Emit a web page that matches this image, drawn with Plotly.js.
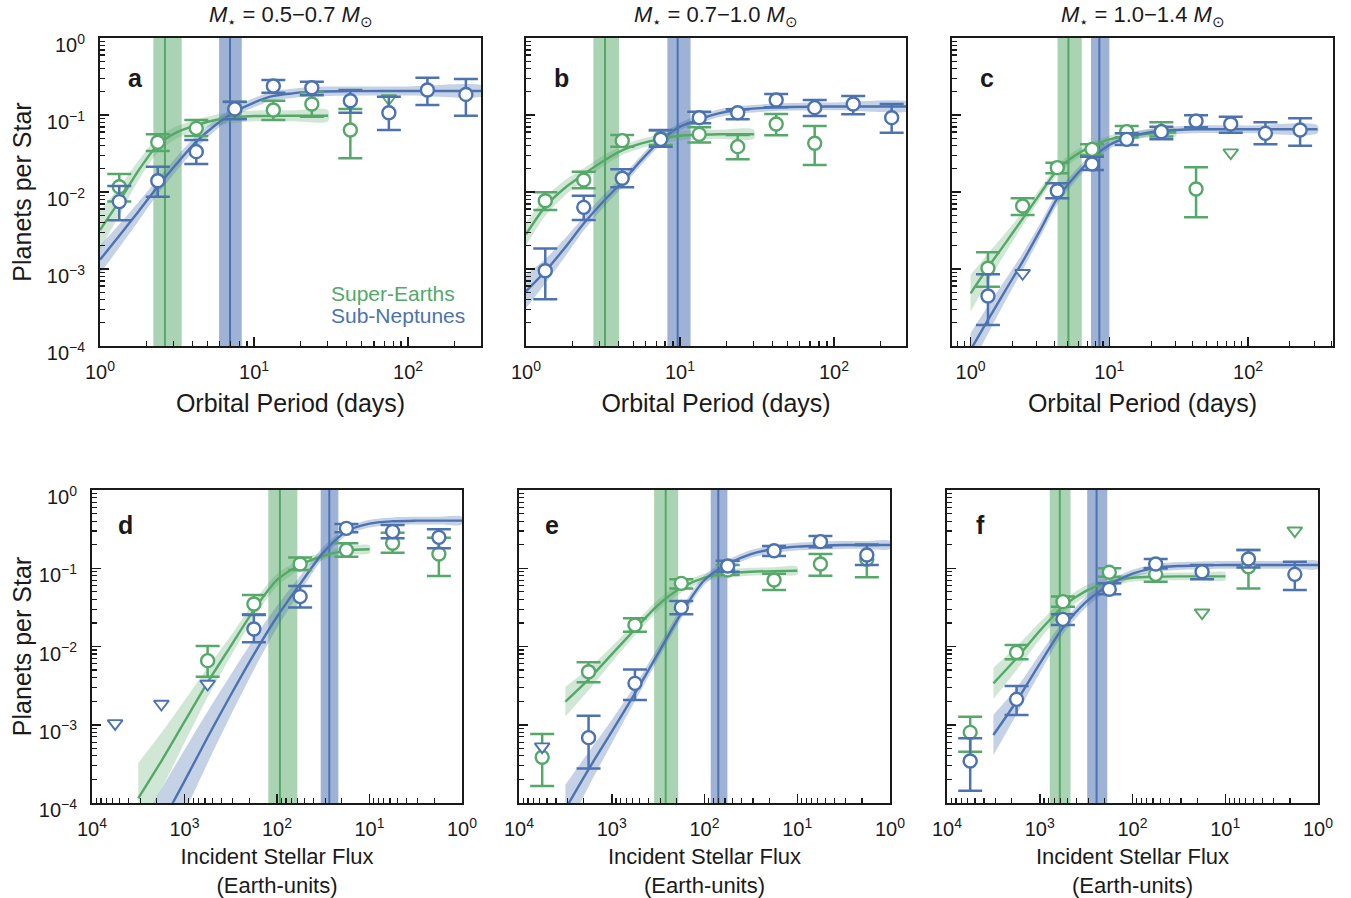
<!DOCTYPE html>
<html><head><meta charset="utf-8">
<script src="https://cdn.plot.ly/plotly-3.0.1.min.js"></script>
<style>html,body{margin:0;padding:0;background:#fff}</style>
</head><body><div id="chart" style="width:1351px;height:898px"></div>
<script>
// ---------------- data ----------------
const periodBins = [1.334, 2.371, 4.217, 7.499, 13.34, 23.71, 42.17, 74.99, 133.4, 237.1];
const fluxBins = [5623, 1778, 562.3, 177.8, 56.23, 17.78, 5.623, 1.778];

// panel a : 0.5-0.7 Msun, orbital period
const aBlue   = [0.0075, 0.0140, 0.0334, 0.120, 0.238, 0.226, 0.153, 0.107, 0.211, 0.185];
const aBlueHi = [0.0120, 0.0213, 0.0473, 0.149, 0.285, 0.271, 0.211, 0.173, 0.305, 0.294];
const aBlueLo = [0.0043, 0.0087, 0.0231, 0.088, 0.195, 0.180, 0.107, 0.064, 0.135, 0.098];
const aBlueLimit = [null, null, null, null, null, null, null, null, null, null];
const aGreen   = [0.0117, 0.0442, 0.0671, 0.1175, 0.116, 0.139, 0.0638, null, null, null];
const aGreenHi = [0.0171, 0.0561, 0.0861, 0.148, 0.153, 0.197, 0.1197, null, null, null];
const aGreenLo = [0.0075, 0.0340, 0.0533, 0.0891, 0.0861, 0.0951, 0.0274, null, null, null];
const aGreenLimit = [null, null, null, null, null, null, null, 0.164, null, null];

// panel b : 0.7-1.0 Msun
const bBlue   = [0.00095, 0.00632, 0.01507, 0.0483, 0.0923, 0.1072, 0.1567, 0.1245, 0.139, 0.0923];
const bBlueHi = [0.00185, 0.00895, 0.01968, 0.0638, 0.1104, 0.1186, 0.1875, 0.1567, 0.1766, 0.139];
const bBlueLo = [0.000404, 0.00433, 0.0115, 0.0388, 0.078, 0.0879, 0.1259, 0.097, 0.1021, 0.059];
const bBlueLimit = [null, null, null, null, null, null, null, null, null, null];
const bGreen   = [0.00771, 0.01432, 0.04645, 0.0498, 0.0561, 0.0388, 0.0764, 0.0429, null, null];
const bGreenHi = [0.00991, 0.01837, 0.055, 0.0631, 0.0692, 0.055, 0.103, 0.0719, null, null];
const bGreenLo = [0.00583, 0.01117, 0.0388, 0.0407, 0.0438, 0.02655, 0.0545, 0.02244, null, null];
const bGreenLimit = [null, null, null, null, null, null, null, null, null, null];

// panel c : 1.0-1.4 Msun
const cBlue   = [0.000446, null, 0.0104, 0.0231, 0.0483, 0.0608, 0.0836, 0.0764, 0.0578, 0.0638];
const cBlueHi = [0.000853, null, 0.01297, 0.02877, 0.0578, 0.0706, 0.0991, 0.0951, 0.0804, 0.0906];
const cBlueLo = [0.0001875, null, 0.00828, 0.01932, 0.0407, 0.0483, 0.0692, 0.059, 0.0416, 0.040];
const cBlueLimit = [null, 0.000879, null, null, null, null, null, null, null, null];
const cGreen   = [0.001021, 0.00658, 0.0207, 0.0358, 0.0608, 0.0608, 0.01094, null, null, null];
const cGreenHi = [0.001648, 0.00828, 0.02404, 0.0416, 0.0719, 0.0804, 0.0209, null, null, null];
const cGreenLo = [0.00059, 0.00502, 0.01746, 0.03027, 0.0513, 0.0524, 0.00469, null, null, null];
const cGreenLimit = [null, null, null, null, null, null, null, 0.03243, null, null];

// panel d : 0.5-0.7 Msun, incident flux
const dBlue   = [null, null, null, 0.01675, 0.0434, 0.3236, 0.2938, 0.2483];
const dBlueHi = [null, null, null, 0.0253, 0.0593, 0.367, 0.357, 0.314];
const dBlueLo = [null, null, null, 0.0113, 0.0316, 0.2877, 0.241, 0.1795];
const dBlueLimit = [0.00104, 0.00184, 0.00332, null, null, null, null, null];
const dGreen   = [null, null, 0.00659, 0.0349, 0.1132, 0.171, 0.2084, 0.152];
const dGreenHi = [null, null, 0.01014, 0.0455, 0.1377, 0.2084, 0.2844, 0.2455];
const dGreenLo = [null, null, 0.00411, 0.02576, 0.0951, 0.1406, 0.1581, 0.0796];
const dGreenLimit = [null, null, null, null, null, null, null, null];

// panel e : 0.7-1.0 Msun
const eBlue   = [null, 0.000684, 0.00338, 0.0316, 0.1069, 0.1675, 0.2188, 0.1476];
const eBlueHi = [null, 0.001306, 0.0051, 0.0381, 0.125, 0.1923, 0.2582, 0.1982];
const eBlueLo = [null, 0.000277, 0.00207, 0.02576, 0.0904, 0.1435, 0.1849, 0.1102];
const eBlueLimit = [0.000525, null, null, null, null, null, null, null];
const eGreen   = [0.000384, 0.00476, 0.01884, 0.0641, 0.0951, 0.0708, 0.1132, 0.130];
const eGreenHi = [0.000762, 0.00628, 0.0229, 0.0721, 0.1102, 0.0851, 0.152, 0.2023];
const eGreenLo = [0.0001648, 0.00348, 0.01545, 0.0553, 0.082, 0.0527, 0.0804, 0.0766];
const eGreenLimit = [null, null, null, null, null, null, null, null];

// panel f : 1.0-1.4 Msun
const fBlue   = [0.000344, 0.00211, 0.02223, 0.0538, 0.1132, 0.0904, 0.1312, 0.0836];
const fBlueHi = [0.000671, 0.00313, 0.02576, 0.0641, 0.1312, 0.1102, 0.171, 0.1213];
const fBlueLo = [0.0001436, 0.001334, 0.01884, 0.04645, 0.0998, 0.0721, 0.1026, 0.0527];
const fBlueLimit = [null, null, null, null, null, null, null, null];
const fGreen   = [0.0008, 0.00841, 0.0374, 0.0887, 0.0836, null, 0.1047, null];
const fGreenHi = [0.001268, 0.01045, 0.0434, 0.0998, 0.0998, null, 0.171, null];
const fGreenLo = [0.000453, 0.00685, 0.0323, 0.078, 0.0673, null, 0.0553, null];
const fGreenLimit = [null, null, null, null, null, 0.02704, null, 0.302];

// fitted model curves and their shaded bands
const periodFitGreen = [1, 1.334, 1.778, 2.371, 3.162, 4.217, 5.623, 7.499, 10, 17.78, 30.2];
const periodFitBlue  = [1, 1.334, 1.778, 2.371, 3.162, 4.217, 5.623, 7.499, 10, 13.34, 17.78, 23.71, 42.17, 100, 316.2];
const fluxFitGreen = [3162, 1778, 1000, 562.3, 316.2, 177.8, 100, 56.23, 31.62, 17.78, 10];
const fluxFitBlue  = [3162, 1778, 1000, 562.3, 316.2, 177.8, 100, 56.23, 31.62, 17.78, 10, 5.623, 3.162, 1.778, 1];

const aGreenFit   = [0.0032, 0.0076, 0.019, 0.041, 0.060, 0.074, 0.086, 0.093, 0.097, 0.098, 0.098];
const aGreenFitLo = [0.0018, 0.0050, 0.0141, 0.0326, 0.050, 0.063, 0.073, 0.079, 0.083, 0.083, 0.083];
const aGreenFitHi = [0.0057, 0.0115, 0.0256, 0.0516, 0.072, 0.087, 0.101, 0.109, 0.114, 0.115, 0.115];
const aBlueFit   = [0.00132, 0.0027, 0.0056, 0.0118, 0.0236, 0.045, 0.074, 0.110, 0.145, 0.177, 0.191, 0.201, 0.204, 0.205, 0.205];
const aBlueFitLo = [0.00087, 0.0019, 0.0042, 0.0094, 0.0192, 0.0374, 0.063, 0.096, 0.126, 0.154, 0.166, 0.175, 0.178, 0.179, 0.179];
const aBlueFitHi = [0.0020, 0.0038, 0.0074, 0.0149, 0.029, 0.054, 0.087, 0.126, 0.166, 0.203, 0.219, 0.231, 0.234, 0.235, 0.235];

const bGreenFit   = [0.00282, 0.00646, 0.0112, 0.0170, 0.0251, 0.0347, 0.0427, 0.0490, 0.0537, 0.0562, 0.0562];
const bGreenFitLo = [0.0020, 0.0049, 0.0089, 0.0141, 0.0214, 0.0302, 0.0372, 0.0427, 0.0468, 0.0490, 0.0490];
const bGreenFitHi = [0.0040, 0.0085, 0.0141, 0.0204, 0.0295, 0.0398, 0.0490, 0.0563, 0.0616, 0.0645, 0.0645];
const bBlueFit   = [0.000513, 0.000933, 0.00186, 0.00389, 0.00748, 0.0135, 0.0261, 0.0468, 0.0706, 0.0879, 0.105, 0.116, 0.126, 0.129, 0.129];
const bBlueFitLo = [0.00031, 0.00065, 0.00141, 0.00316, 0.00622, 0.0115, 0.0227, 0.0408, 0.0629, 0.0783, 0.0936, 0.1034, 0.1123, 0.115, 0.115];
const bBlueFitHi = [0.00085, 0.00135, 0.00245, 0.00478, 0.0090, 0.0159, 0.0300, 0.0537, 0.0792, 0.0986, 0.118, 0.130, 0.141, 0.145, 0.145];

const cGreenFit   = [0.000483, 0.001047, 0.002153, 0.0045, 0.00942, 0.0193, 0.0296, 0.0395, 0.0483, 0.0566, 0.0596];
const cGreenFitLo = [0.000278, 0.000692, 0.001596, 0.00366, 0.00802, 0.0168, 0.0258, 0.0352, 0.0430, 0.0504, 0.0531];
const cGreenFitHi = [0.000839, 0.001585, 0.002904, 0.005535, 0.01107, 0.02216, 0.03398, 0.04432, 0.0542, 0.0635, 0.0669];
const cBlueFit   = [0.000089, 0.000218, 0.000524, 0.001245, 0.003148, 0.00828, 0.0158, 0.0274, 0.0407, 0.0508, 0.0578, 0.0619, 0.0652, 0.0652, 0.0652];
const cBlueFitLo = [0.000054, 0.000144, 0.00038, 0.000967, 0.00256, 0.00689, 0.01345, 0.0239, 0.0363, 0.0453, 0.0515, 0.0552, 0.0581, 0.0581, 0.0581];
const cBlueFitHi = [0.000148, 0.00033, 0.000723, 0.001604, 0.00387, 0.00995, 0.01857, 0.0315, 0.0457, 0.0570, 0.0649, 0.0695, 0.0732, 0.0732, 0.0732];

const dGreenFit   = [0.000115, 0.000344, 0.001094, 0.00348, 0.01014, 0.0292, 0.0708, 0.1102, 0.1435, 0.168, 0.1746];
const dGreenFitLo = [0.000041, 0.00015, 0.000588, 0.00225, 0.00752, 0.0232, 0.0589, 0.096, 0.1279, 0.1497, 0.1556];
const dGreenFitHi = [0.000324, 0.000788, 0.002037, 0.00539, 0.01368, 0.0368, 0.0851, 0.1265, 0.161, 0.1885, 0.1959];
const dBlueFit   = [0.0000151, 0.0000537, 0.0001905, 0.000692, 0.0024, 0.00794, 0.02399, 0.0631, 0.1585, 0.2951, 0.3715, 0.398, 0.4055, 0.4055, 0.4055];
const dBlueFitLo = [0.00000478, 0.00001906, 0.0000758, 0.000324, 0.001319, 0.00501, 0.01738, 0.0501, 0.1349, 0.263, 0.3311, 0.3547, 0.3614, 0.3614, 0.3614];
const dBlueFitHi = [0.0000477, 0.0001513, 0.0004785, 0.001479, 0.00437, 0.01259, 0.0331, 0.0794, 0.1862, 0.3311, 0.4168, 0.4466, 0.455, 0.455, 0.455];

const eGreenFit   = [0.001972, 0.0038, 0.00794, 0.0166, 0.0339, 0.0562, 0.0759, 0.0861, 0.0902, 0.092, 0.0931];
const eGreenFitLo = [0.001273, 0.002754, 0.006307, 0.01381, 0.02885, 0.04895, 0.06765, 0.07674, 0.0804, 0.082, 0.083];
const eGreenFitHi = [0.003055, 0.005244, 0.009997, 0.01995, 0.03983, 0.06452, 0.08516, 0.0966, 0.1012, 0.1032, 0.1045];
const eBlueFit   = [0.0000838, 0.000269, 0.000817, 0.00252, 0.00818, 0.02655, 0.0708, 0.1132, 0.152, 0.1762, 0.1888, 0.1945, 0.1982, 0.1982, 0.1982];
const eBlueFitLo = [0.000041, 0.000162, 0.000578, 0.002, 0.00681, 0.0226, 0.0617, 0.1009, 0.1355, 0.157, 0.1683, 0.1734, 0.1767, 0.1767, 0.1767];
const eBlueFitHi = [0.0001711, 0.000447, 0.001154, 0.00317, 0.00983, 0.0312, 0.0813, 0.127, 0.1705, 0.1977, 0.2118, 0.2182, 0.2224, 0.2224, 0.2224];

const fGreenFit   = [0.00338, 0.00708, 0.01585, 0.03236, 0.0513, 0.0668, 0.0755, 0.078, 0.0787, 0.0787, 0.0787];
const fGreenFitLo = [0.00213, 0.00501, 0.01231, 0.02692, 0.04366, 0.05819, 0.06729, 0.06952, 0.07014, 0.07014, 0.07014];
const fGreenFitHi = [0.005357, 0.010, 0.02041, 0.0389, 0.06028, 0.07669, 0.08471, 0.08752, 0.0883, 0.0883, 0.0883];
const fBlueFit   = [0.00074, 0.001995, 0.00603, 0.01738, 0.03715, 0.0611, 0.0851, 0.1012, 0.1069, 0.1089, 0.1102, 0.1102, 0.1102, 0.1102, 0.1102];
const fBlueFitLo = [0.000407, 0.001349, 0.004575, 0.01446, 0.03162, 0.05322, 0.07585, 0.0902, 0.0953, 0.0971, 0.0982, 0.0982, 0.0982, 0.0982, 0.0982];
const fBlueFitHi = [0.001347, 0.002951, 0.007947, 0.02089, 0.04365, 0.07014, 0.09548, 0.1135, 0.12, 0.1222, 0.1237, 0.1237, 0.1237, 0.1237, 0.1237];

// transition locations (vertical lines) and their uncertainty bands
const greenTransition   = [2.64, 3.26, 5.07, 93, 262, 608];
const greenTransitionLo = [2.22, 2.74, 4.23, 60.3, 192, 466];
const greenTransitionHi = [3.39, 4.02, 6.33, 124.2, 349, 780];
const blueTransition    = [6.98, 9.66, 8.47, 27.2, 71, 244];
const blueTransitionLo  = [5.93, 8.28, 7.38, 21.7, 56.6, 187];
const blueTransitionHi  = [8.32, 11.72, 10.0, 33.7, 85.7, 308];

const panelLetters = ['a', 'b', 'c', 'd', 'e', 'f'];
const massTitles = ['0.5\u22120.7', '0.7\u22121.0', '1.0\u22121.4'];

// ---------------- styling ----------------
const GREEN = '#55A868', BLUE = '#4C72B0';
const GREEN_BAND = 'rgba(85,168,104,0.5)', BLUE_BAND = 'rgba(76,114,176,0.55)';
const GREEN_FILL = 'rgba(85,168,104,0.28)', BLUE_FILL = 'rgba(76,114,176,0.32)';
const FONT = 'Liberation Sans, Arial, Helvetica, sans-serif';
const INK = '#1a1a1a';
const W = 1351, H = 898;

const panels = [
  {bins: periodBins, gFitX: periodFitGreen, bFitX: periodFitBlue,
   blue: aBlue, blueHi: aBlueHi, blueLo: aBlueLo, blueLim: aBlueLimit,
   green: aGreen, greenHi: aGreenHi, greenLo: aGreenLo, greenLim: aGreenLimit,
   gFit: aGreenFit, gFitLo: aGreenFitLo, gFitHi: aGreenFitHi, bFit: aBlueFit, bFitLo: aBlueFitLo, bFitHi: aBlueFitHi},
  {bins: periodBins, gFitX: periodFitGreen, bFitX: periodFitBlue,
   blue: bBlue, blueHi: bBlueHi, blueLo: bBlueLo, blueLim: bBlueLimit,
   green: bGreen, greenHi: bGreenHi, greenLo: bGreenLo, greenLim: bGreenLimit,
   gFit: bGreenFit, gFitLo: bGreenFitLo, gFitHi: bGreenFitHi, bFit: bBlueFit, bFitLo: bBlueFitLo, bFitHi: bBlueFitHi},
  {bins: periodBins, gFitX: periodFitGreen, bFitX: periodFitBlue,
   blue: cBlue, blueHi: cBlueHi, blueLo: cBlueLo, blueLim: cBlueLimit,
   green: cGreen, greenHi: cGreenHi, greenLo: cGreenLo, greenLim: cGreenLimit,
   gFit: cGreenFit, gFitLo: cGreenFitLo, gFitHi: cGreenFitHi, bFit: cBlueFit, bFitLo: cBlueFitLo, bFitHi: cBlueFitHi},
  {bins: fluxBins, gFitX: fluxFitGreen, bFitX: fluxFitBlue,
   blue: dBlue, blueHi: dBlueHi, blueLo: dBlueLo, blueLim: dBlueLimit,
   green: dGreen, greenHi: dGreenHi, greenLo: dGreenLo, greenLim: dGreenLimit,
   gFit: dGreenFit, gFitLo: dGreenFitLo, gFitHi: dGreenFitHi, bFit: dBlueFit, bFitLo: dBlueFitLo, bFitHi: dBlueFitHi},
  {bins: fluxBins, gFitX: fluxFitGreen, bFitX: fluxFitBlue,
   blue: eBlue, blueHi: eBlueHi, blueLo: eBlueLo, blueLim: eBlueLimit,
   green: eGreen, greenHi: eGreenHi, greenLo: eGreenLo, greenLim: eGreenLimit,
   gFit: eGreenFit, gFitLo: eGreenFitLo, gFitHi: eGreenFitHi, bFit: eBlueFit, bFitLo: eBlueFitLo, bFitHi: eBlueFitHi},
  {bins: fluxBins, gFitX: fluxFitGreen, bFitX: fluxFitBlue,
   blue: fBlue, blueHi: fBlueHi, blueLo: fBlueLo, blueLim: fBlueLimit,
   green: fGreen, greenHi: fGreenHi, greenLo: fGreenLo, greenLim: fGreenLimit,
   gFit: fGreenFit, gFitLo: fGreenFitLo, gFitHi: fGreenFitHi, bFit: fBlueFit, bFitLo: fBlueFitLo, bFitHi: fBlueFitHi}
];

// pixel frames of the six panels -> domains
const frames = [
  {x0: 100, x1: 481, y0: 38, y1: 346, xr: [0, 2.473]},
  {x0: 526, x1: 906, y0: 38, y1: 346, xr: [0, 2.468]},
  {x0: 952, x1: 1333, y0: 38, y1: 346, xr: [-0.134, 2.612]},
  {x0: 92, x1: 462, y0: 490, y1: 803, xr: [4, 0]},
  {x0: 519, x1: 890, y0: 490, y1: 803, xr: [4, 0]},
  {x0: 947, x1: 1318, y0: 490, y1: 803, xr: [4, 0]}
];

function minorLog(e0, e1) {
  const v = [];
  for (let e = e0; e <= e1; e++) for (let k = 2; k <= 9; k++) v.push(k * Math.pow(10, e));
  return v;
}
function powLabel(p) { return '10<sup>' + (p < 0 ? '\u2212' + (-p) : p) + '</sup>'; }

const traces = [];
const shapes = [];
const annotations = [];
const layout = {
  width: W, height: H, margin: {l: 0, r: 0, t: 0, b: 0},
  paper_bgcolor: '#fff', plot_bgcolor: '#fff', showlegend: false,
  font: {family: FONT, color: INK}
};

panels.forEach((p, i) => {
  const n = i + 1;
  const xa = n === 1 ? 'x' : 'x' + n, ya = n === 1 ? 'y' : 'y' + n;
  const xk = n === 1 ? 'xaxis' : 'xaxis' + n, yk = n === 1 ? 'yaxis' : 'yaxis' + n;
  const f = frames[i];
  const top = i < 3;
  const left = (i === 0 || i === 3);
  const exps = top ? [0, 1, 2] : [4, 3, 2, 1, 0];

  layout[xk] = {
    type: 'log', range: f.xr, domain: [f.x0 / W, f.x1 / W], anchor: ya,
    tickmode: 'array', tickvals: exps.map(e => Math.pow(10, e)), ticktext: exps.map(powLabel),
    ticks: 'inside', ticklen: 9, tickwidth: 1.5, tickcolor: INK, ticklabelstandoff: 7,
    minor: {ticks: 'inside', ticklen: 5, tickwidth: 1.2, tickcolor: INK, tickmode: 'array',
            tickvals: top ? minorLog(-1, 2) : minorLog(0, 3), showgrid: false},
    showline: true, mirror: true, linewidth: 2, linecolor: INK,
    showgrid: false, zeroline: false, tickfont: {size: 20, family: FONT, color: INK},
    title: top ? {text: 'Orbital Period (days)', font: {size: 25, family: FONT, color: INK}, standoff: 12}
               : {text: 'Incident Stellar Flux<br>(Earth-units)', font: {size: 22, family: FONT, color: INK}, standoff: 10}
  };
  const yax = {
    type: 'log', range: [-4, 0], domain: [1 - f.y1 / H, 1 - f.y0 / H], anchor: xa,
    tickmode: 'array', tickvals: [1e-4, 1e-3, 1e-2, 1e-1, 1], ticktext: [-4, -3, -2, -1, 0].map(powLabel),
    showticklabels: left,
    ticks: 'inside', ticklen: 9, tickwidth: 1.5, tickcolor: INK,
    minor: {ticks: 'inside', ticklen: 5, tickwidth: 1.2, tickcolor: INK, tickmode: 'array',
            tickvals: minorLog(-4, -1), showgrid: false},
    showline: true, mirror: true, linewidth: 2, linecolor: INK,
    showgrid: false, zeroline: false, tickfont: {size: 20, family: FONT, color: INK}
  };
  if (left) {
    yax.ticklabelstandoff = 9;
    yax.ticklabelshift = 7;
    yax.title = {text: 'Planets per Star', font: {size: 25, family: FONT, color: INK}, standoff: top ? 8 : 0};
  }
  layout[yk] = yax;

  // transition bands and lines
  [[greenTransitionLo[i], greenTransitionHi[i], greenTransition[i], GREEN_BAND, GREEN],
   [blueTransitionLo[i], blueTransitionHi[i], blueTransition[i], BLUE_BAND, BLUE]].forEach(t => {
    shapes.push({type: 'rect', xref: xa, yref: ya + ' domain', x0: t[0], x1: t[1], y0: 0, y1: 1,
                 fillcolor: t[3], line: {width: 0}, layer: 'below'});
    shapes.push({type: 'line', xref: xa, yref: ya + ' domain', x0: t[2], x1: t[2], y0: 0, y1: 1,
                 line: {color: t[4], width: 2}, layer: 'below'});
  });

  // fit bands
  [[p.gFitX, p.gFitLo, p.gFitHi, GREEN_FILL], [p.bFitX, p.bFitLo, p.bFitHi, BLUE_FILL]].forEach(b => {
    traces.push({type: 'scatter', mode: 'lines', xaxis: xa, yaxis: ya,
      x: b[0].concat(b[0].slice().reverse()), y: b[2].concat(b[1].slice().reverse()),
      fill: 'toself', fillcolor: b[3], line: {width: 0, shape: 'spline', smoothing: 0.8}, hoverinfo: 'skip'});
  });
  // fit lines
  [[p.gFitX, p.gFit, GREEN, 'Super-Earths model'], [p.bFitX, p.bFit, BLUE, 'Sub-Neptunes model']].forEach(b => {
    traces.push({type: 'scatter', mode: 'lines', xaxis: xa, yaxis: ya, name: b[3],
      x: b[0], y: b[1], line: {color: b[2], width: 2.4, shape: 'spline', smoothing: 0.8}});
  });
  // measured points with error bars, then upper limits
  [[p.green, p.greenHi, p.greenLo, p.greenLim, GREEN, 'Super-Earths'],
   [p.blue, p.blueHi, p.blueLo, p.blueLim, BLUE, 'Sub-Neptunes']].forEach(s => {
    const y = s[0];
    traces.push({type: 'scatter', mode: 'markers', xaxis: xa, yaxis: ya, name: s[5],
      x: p.bins, y: y,
      error_y: {type: 'data', symmetric: false,
        array: y.map((v, k) => v == null ? null : s[1][k] - v),
        arrayminus: y.map((v, k) => v == null ? null : v - s[2][k]),
        color: s[4], thickness: 2.5, width: 12},
      marker: {symbol: 'circle', size: 13, color: '#fff', line: {color: s[4], width: 2.4}}});
    traces.push({type: 'scatter', mode: 'markers', xaxis: xa, yaxis: ya, name: s[5] + ' upper limit',
      x: p.bins, y: s[3],
      marker: {symbol: 'triangle-down', size: 13, color: '#fff', line: {color: s[4], width: 1.9}}});
  });

  annotations.push({xref: xa + ' domain', yref: ya + ' domain',
    x: (top ? 35 : 33) / (f.x1 - f.x0), y: (f.y1 - (top ? 78 : 525)) / (f.y1 - f.y0),
    text: '<b>' + panelLetters[i] + '</b>', showarrow: false, xanchor: 'center', yanchor: 'middle',
    font: {size: 25, family: FONT, color: INK}});
  if (top) {
    annotations.push({xref: xa + ' domain', yref: 'paper', x: 0.5, y: 1 - 16 / H,
      text: '<i>M</i><sub>\u22c6</sub> = ' + massTitles[i] + ' <i>M</i><sub>\u2299</sub>',
      showarrow: false, xanchor: 'center', yanchor: 'middle',
      font: {size: 22, family: FONT, color: INK}});
  }
});

// legend text in panel a
annotations.push({xref: 'x domain', yref: 'y domain', x: (329 - 100) / 381, y: (346 - 293) / 308,
  text: 'Super-Earths', showarrow: false, xanchor: 'left', yanchor: 'middle',
  font: {size: 21, family: FONT, color: GREEN}});
annotations.push({xref: 'x domain', yref: 'y domain', x: (329 - 100) / 381, y: (346 - 315) / 308,
  text: 'Sub-Neptunes', showarrow: false, xanchor: 'left', yanchor: 'middle',
  font: {size: 21, family: FONT, color: BLUE}});

layout.shapes = shapes;
layout.annotations = annotations;

Plotly.newPlot('chart', traces, layout, {staticPlot: true, displayModeBar: false});
</script></body></html>
